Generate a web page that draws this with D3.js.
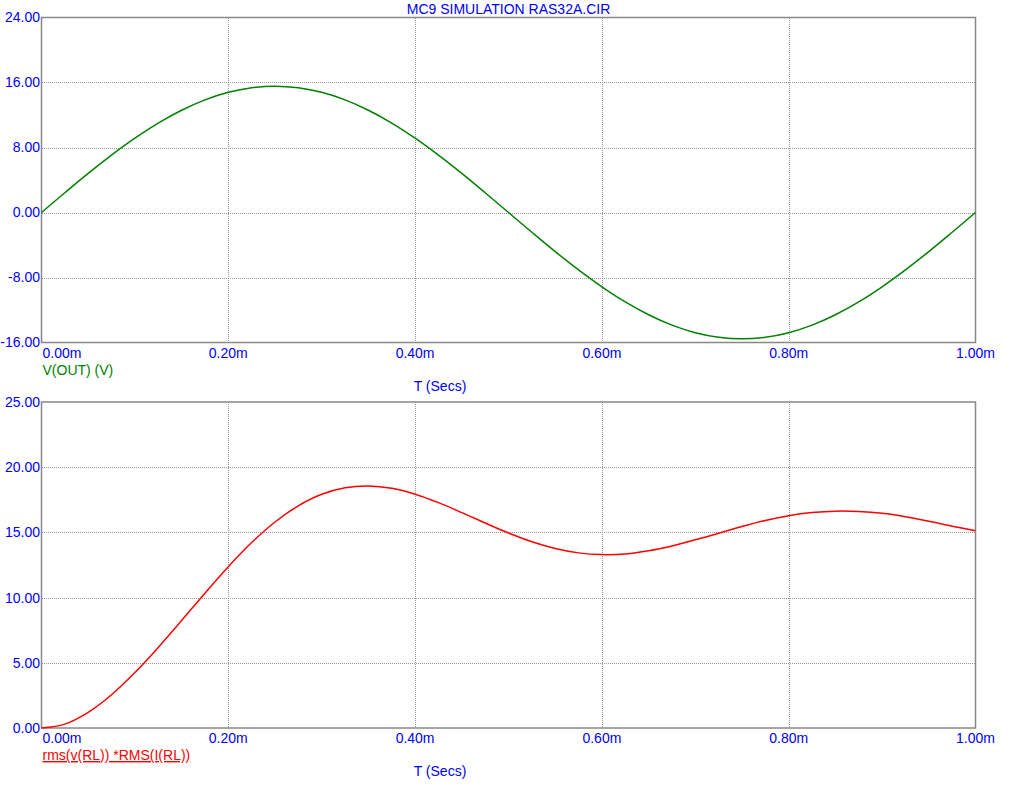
<!DOCTYPE html>
<html><head><meta charset="utf-8">
<script src="https://cdn.jsdelivr.net/npm/d3@7"></script>
<style>body{margin:0;background:#fff}svg{display:block}text{font-family:"Liberation Sans",Arial,Helvetica,sans-serif}</style>
</head><body>
<svg id="c" width="1035" height="800"></svg>
<script>
// time samples, ms
const timeMs = [0,0.025,0.05,0.075,0.1,0.125,0.15,0.175,0.2,0.225,0.25,0.275,0.3,0.325,0.35,0.375,0.4,0.425,0.45,0.475,0.5,0.525,0.55,0.575,0.6,0.625,0.65,0.675,0.7,0.725,0.75,0.775,0.8,0.825,0.85,0.875,0.9,0.925,0.95,0.975,1.0];
const vOut = [0,2.43,4.81,7.06,9.14,11.00,12.58,13.86,14.79,15.36,15.55,15.36,14.79,13.86,12.58,11.00,9.14,7.06,4.81,2.43,0,-2.43,-4.81,-7.06,-9.14,-11.00,-12.58,-13.86,-14.79,-15.36,-15.55,-15.36,-14.79,-13.86,-12.58,-11.00,-9.14,-7.06,-4.81,-2.43,0];
const rmsPower = [0,0.30,1.20,2.55,4.25,6.18,8.24,10.34,12.37,14.22,15.80,17.04,17.92,18.42,18.56,18.38,17.93,17.28,16.52,15.72,14.95,14.28,13.77,13.43,13.30,13.35,13.59,13.96,14.43,14.94,15.45,15.91,16.28,16.52,16.63,16.60,16.46,16.20,15.86,15.48,15.12];
const xTicks = [0,0.2,0.4,0.6,0.8,1.0];
const xTickLabels = ["0.00m","0.20m","0.40m","0.60m","0.80m","1.00m"];
const yTicksTop = [-16,-8,0,8,16,24];
const yTickLabelsTop = ["-16.00","-8.00","0.00","8.00","16.00","24.00"];
const yTicksBot = [0,5,10,15,20,25];
const yTickLabelsBot = ["0.00","5.00","10.00","15.00","20.00","25.00"];
const titleText = "MC9 SIMULATION RAS32A.CIR";
const topLegend = "V(OUT) (V)";
const botLegend = "rms(v(RL)) *RMS(I(RL))";
const xAxisTitle = "T (Secs)";

const svg = d3.select("#c");
const L = 41.5, R = 975.5;
const BLUE = "#0000ff";
const x = d3.scaleLinear().domain([0,1]).range([L,R]);

svg.append("text").attr("x",508.5).attr("y",14).attr("text-anchor","middle")
  .attr("font-size",14).attr("fill",BLUE).text(titleText);

function panel(top, bottom, yDomain, yTicks, yLabels, data, color, legend, underline) {
  const y = d3.scaleLinear().domain(yDomain).range([bottom, top]);
  const g = svg.append("g");
  // grid
  g.selectAll(".vg").data(xTicks.slice(1,-1)).enter().append("line")
    .attr("x1",d=>Math.round(x(d))+0.5).attr("x2",d=>Math.round(x(d))+0.5)
    .attr("y1",Math.round(top)).attr("y2",Math.round(bottom))
    .attr("stroke","#999").attr("stroke-width",1).attr("stroke-dasharray","1,1");
  g.selectAll(".hg").data(yTicks.slice(1,-1)).enter().append("line")
    .attr("y1",d=>Math.round(y(d))+0.5).attr("y2",d=>Math.round(y(d))+0.5)
    .attr("x1",Math.round(L)).attr("x2",Math.round(R))
    .attr("stroke","#999").attr("stroke-width",1).attr("stroke-dasharray","1,1");
  // frame
  g.append("rect").attr("x",L).attr("y",top).attr("width",R-L).attr("height",bottom-top)
    .attr("fill","none").attr("stroke","#888").attr("stroke-width",1.5);
  // y labels
  g.selectAll(".yl").data(yTicks).enter().append("text")
    .attr("x",L-1.5).attr("y",d=>y(d)).attr("dy","0.35em").attr("text-anchor","end")
    .attr("font-size",14).attr("fill",BLUE).text((d,i)=>yLabels[i]);
  // x labels
  g.selectAll(".xl").data(xTicks).enter().append("text")
    .attr("x",(d,i)=> i===0 ? L+1 : x(d)).attr("y",bottom+15)
    .attr("text-anchor",(d,i)=> i===0 ? "start" : "middle")
    .attr("font-size",14).attr("fill",BLUE).text((d,i)=>xTickLabels[i]);
  // curve
  const line = d3.line().x((d,i)=>x(timeMs[i])).y(d=>y(d)).curve(d3.curveCatmullRom);
  g.append("path").datum(data).attr("d",line).attr("fill","none")
    .attr("stroke",color).attr("stroke-width",1.5);
  // legend
  const lt = g.append("text").attr("x",L+1).attr("y",bottom+32).attr("font-size",14)
    .attr("fill",color).text(legend);
  if (underline) lt.attr("text-decoration","underline");
  g.append("text").attr("x",440).attr("y",bottom+48).attr("text-anchor","middle")
    .attr("font-size",14).attr("fill",BLUE).text(xAxisTitle);
}

panel(17.5, 342.5, [-16,24], yTicksTop, yTickLabelsTop, vOut, "#008000", topLegend, false);
panel(402, 728, [0,25], yTicksBot, yTickLabelsBot, rmsPower, "#ff0000", botLegend, true);
</script>
</body></html>
